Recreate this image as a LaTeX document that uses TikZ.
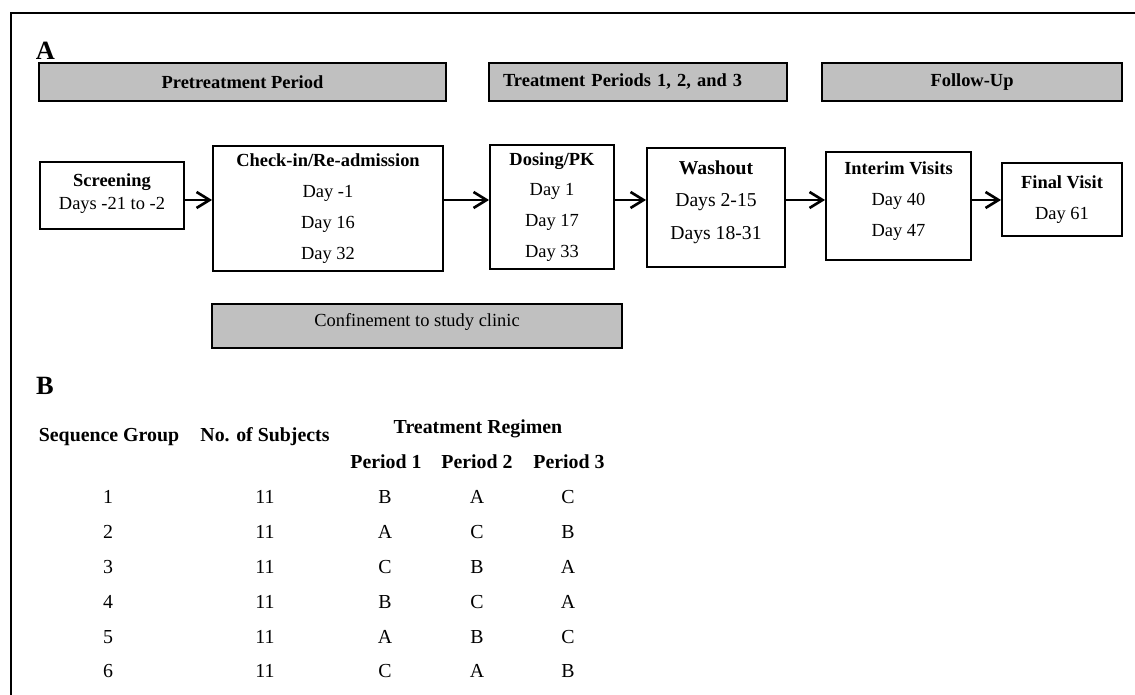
\documentclass[tikz,border=0pt]{standalone}
\usepackage{fontspec}
\setmainfont{Liberation Serif}
\usetikzlibrary{arrows.meta}
\definecolor{bannergray}{HTML}{C0C0C0}

\begin{document}
\begin{tikzpicture}[
  x=0.02cm, y=-0.02cm,
  % GLOBAL CFG
  font=\fontsize{10.5}{17.6}\selectfont,
  % Styles
  banner/.style={% For the grey period bars
      rectangle,
      draw,
      fill=bannergray,
      line width=1.3pt,
      minimum height=0.76cm,
      inner sep=2pt,
      font=\fontsize{10.5}{12}\selectfont\bfseries,
      },
  stage/.style={% For the study stages
      rectangle,
      draw,
      line width=1.1pt,
      align=center,
      inner sep=2pt,
      },
  panel/.style={% For the panel letters
      font=\fontsize{15}{17}\selectfont\bfseries,
      inner sep=0pt,
      },
  th/.style={% Table headings
      font=\fontsize{11.3}{13}\selectfont\bfseries,
      text height=1.5ex,
      text depth=.4ex,
      inner sep=0pt,
      },
  td/.style={% Table entries
      font=\fontsize{11.3}{13}\selectfont,
      text height=1.5ex,
      text depth=.4ex,
      inner sep=0pt,
      },
  ArrowS/.style={% Arrows between stages
      line width=1.5pt,
      -{Straight Barb[length=2.6mm,width=3.2mm]},
      },
  ]
  \useasboundingbox (0,0) rectangle (1135,695);

  % Frame
  \draw [line width=1.6pt] (11,695) -- (11,13) -- (1135,13);

  % Panel A
  \node [panel] (labA) at (45.5,51) {A};

  \node [banner, minimum width=8.14cm] (pre) at (242.5,82) {Pretreatment Period};
  \node [banner, minimum width=5.96cm, text width=5.4cm, align=left] (treat) at (638,82) {Treatment Periods 1, 2, and 3};
  \node [banner, minimum width=6cm] (follow) at (972,82) {Follow-Up};

  \node [stage, minimum width=2.88cm, minimum height=1.34cm, text depth=4.8pt, font=\fontsize{10.5}{13}\selectfont] (screen) at (112,195.5) {\textbf{Screening}\\Days -21 to -2};
  \node [stage, minimum width=4.6cm, minimum height=2.5cm] (checkin) at (328,208.5) {\textbf{Check-in/Re-admission}\\Day -1\\Day 16\\Day 32};
  \node [stage, minimum width=2.48cm, minimum height=2.48cm] (dosing) at (552,207) {\textbf{Dosing/PK}\\Day 1\\Day 17\\Day 33};
  \node [stage, minimum width=2.76cm, minimum height=2.38cm, text depth=8.5pt, font=\fontsize{11.2}{18.7}\selectfont] (washout) at (716,207.5) {\textbf{Washout}\\Days 2-15\\Days 18-31};
  \node [stage, minimum width=2.9cm, minimum height=2.16cm, text depth=7.7pt] (interim) at (898.5,206) {\textbf{Interim Visits}\\Day 40\\Day 47};
  \node [stage, minimum width=2.4cm, minimum height=1.46cm] (final) at (1062,199.5) {\textbf{Final Visit}\\Day 61};

  \coordinate (flow) at (0,200);
  \draw [ArrowS] (screen.east |- flow) -- (checkin.west |- flow);
  \draw [ArrowS] (checkin.east |- flow) -- (dosing.west |- flow);
  \draw [ArrowS] (dosing.east |- flow) -- (washout.west |- flow);
  \draw [ArrowS] (washout.east |- flow) -- (interim.west |- flow);
  \draw [ArrowS] (interim.east |- flow) -- (final.west |- flow);

  \node [banner, minimum width=8.2cm, minimum height=0.88cm, text depth=7pt, font=\fontsize{10.5}{12}\selectfont] (confine) at (417,326) {Confinement to study clinic};

  % Panel B
  \node [panel] (labB) at (45,386) {B};

  \node [th] (seqhead) at (109,437) {Sequence Group};
  \node [th] (subjhead) at (265,437) {No. of Subjects};
  \node [th] (reghead) at (478,429) {Treatment Regimen};
  \node [th] (pone) at (386,464) {Period 1};
  \node [th] (ptwo) at (477,464) {Period 2};
  \node [th] (pthree) at (569,464) {Period 3};

  \node [td] (seq1) at (108,499) {1};
  \node [td] (subj1) at (265,499) {11};
  \node [td] (pone1) at (385,499) {B};
  \node [td] (ptwo1) at (477,499) {A};
  \node [td] (pthree1) at (568,499) {C};

  \node [td] (seq2) at (108,534) {2};
  \node [td] (subj2) at (265,534) {11};
  \node [td] (pone2) at (385,534) {A};
  \node [td] (ptwo2) at (477,534) {C};
  \node [td] (pthree2) at (568,534) {B};

  \node [td] (seq3) at (108,569) {3};
  \node [td] (subj3) at (265,569) {11};
  \node [td] (pone3) at (385,569) {C};
  \node [td] (ptwo3) at (477,569) {B};
  \node [td] (pthree3) at (568,569) {A};

  \node [td] (seq4) at (108,604) {4};
  \node [td] (subj4) at (265,604) {11};
  \node [td] (pone4) at (385,604) {B};
  \node [td] (ptwo4) at (477,604) {C};
  \node [td] (pthree4) at (568,604) {A};

  \node [td] (seq5) at (108,639) {5};
  \node [td] (subj5) at (265,639) {11};
  \node [td] (pone5) at (385,639) {A};
  \node [td] (ptwo5) at (477,639) {B};
  \node [td] (pthree5) at (568,639) {C};

  \node [td] (seq6) at (108,673) {6};
  \node [td] (subj6) at (265,673) {11};
  \node [td] (pone6) at (385,673) {C};
  \node [td] (ptwo6) at (477,673) {A};
  \node [td] (pthree6) at (568,673) {B};

\end{tikzpicture}
\end{document}
